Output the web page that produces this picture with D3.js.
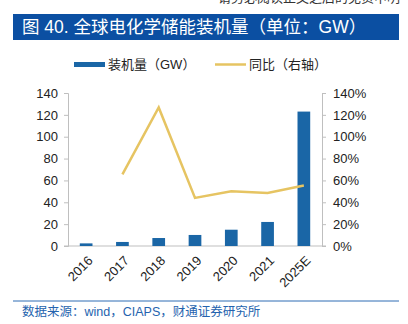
<!DOCTYPE html>
<html>
<head>
<meta charset="utf-8">
<script src="https://cdn.jsdelivr.net/npm/d3@7"></script>
<style>
  html, body { margin: 0; padding: 0; background: #fff; }
  svg { display: block; font-family: "Liberation Sans", "Noto Sans CJK SC", sans-serif; }
</style>
</head>
<body>
<div id="chart"></div>
<script>
const years = ["2016", "2017", "2018", "2019", "2020", "2021", "2025E"];
const capacity = [2.4, 3.7, 7.3, 10.1, 14.9, 22.0, 123.0];
const growth = [null, 0.656, 1.268, 0.44, 0.50, 0.485, 0.553];
const leftTicks = [0, 20, 40, 60, 80, 100, 120, 140];
const rightTicks = [0, 0.2, 0.4, 0.6, 0.8, 1.0, 1.2, 1.4];

const W = 408, H = 324;
const blue = "#1a66a6", gold = "#e6c462", titleBlue = "#0b4fa2";
const cjk = "'Liberation Sans', 'Noto Sans CJK SC', sans-serif";

const svg = d3.select("#chart").append("svg")
    .attr("width", W)
    .attr("height", H);

// page header, mostly above the top edge
svg.append("text")
    .attr("x", 400).attr("y", 2)
    .attr("text-anchor", "end")
    .attr("font-family", cjk)
    .attr("font-size", 13)
    .attr("fill", "#333")
    .text("请务必阅读正文之后的免责申明");

// title bar
svg.append("rect")
    .attr("x", 13).attr("y", 14)
    .attr("width", 386).attr("height", 26)
    .attr("fill", titleBlue);
svg.append("text")
    .attr("x", 22).attr("y", 33)
    .attr("font-family", cjk)
    .attr("font-size", 17.5)
    .attr("fill", "#fff")
    .text("图 40. 全球电化学储能装机量（单位：GW）");

const x = d3.scaleBand().domain(years).range([68, 322]).paddingInner(0.65).paddingOuter(0.325);
const yL = d3.scaleLinear().domain([0, 140]).range([246, 93]);
const yR = d3.scaleLinear().domain([0, 1.4]).range([246, 93]);

// axes
const axisL = svg.append("g").attr("transform", "translate(68,0)")
    .call(d3.axisLeft(yL).tickValues(leftTicks).tickSize(4).tickPadding(6));
const axisR = svg.append("g").attr("transform", "translate(322,0)")
    .call(d3.axisRight(yR).tickValues(rightTicks).tickSize(4).tickPadding(7)
        .tickFormat(d => Math.round(d * 100) + "%"));
[axisL, axisR].forEach(g => {
    g.select(".domain").attr("stroke", "#bfbfbf");
    g.selectAll(".tick line").attr("stroke", "#bfbfbf");
    g.selectAll(".tick text").attr("font-size", 13).attr("fill", "#222")
        .attr("font-family", "'Liberation Sans', sans-serif");
});

svg.append("line")
    .attr("x1", 64).attr("x2", 326)
    .attr("y1", 246).attr("y2", 246)
    .attr("stroke", "#bfbfbf");

// bars
svg.append("g").selectAll("rect")
    .data(years)
    .join("rect")
    .attr("x", d => x(d))
    .attr("width", x.bandwidth())
    .attr("y", (d, i) => yL(capacity[i]))
    .attr("height", (d, i) => yL(0) - yL(capacity[i]))
    .attr("fill", blue);

// growth line on right axis
const line = d3.line()
    .defined(d => d[1] !== null)
    .x(d => x(d[0]) + x.bandwidth() / 2)
    .y(d => yR(d[1]));
svg.append("path")
    .datum(years.map((d, i) => [d, growth[i]]))
    .attr("d", line)
    .attr("fill", "none")
    .attr("stroke", gold)
    .attr("stroke-width", 2.5);

// x labels rotated
svg.append("g").selectAll("text")
    .data(years)
    .join("text")
    .attr("transform", d => `translate(${x(d) + x.bandwidth() / 2 + 1},${255}) rotate(-45)`)
    .attr("text-anchor", "end")
    .attr("dy", "0.7em")
    .attr("font-size", 13)
    .attr("fill", "#222")
    .text(d => d);

// legend
const legend = svg.append("g").attr("font-family", cjk).attr("font-size", 13).attr("fill", "#222");
legend.append("rect").attr("x", 74).attr("y", 62).attr("width", 31).attr("height", 5).attr("fill", blue);
legend.append("text").attr("x", 108).attr("y", 69).text("装机量（GW）");
legend.append("line").attr("x1", 215).attr("x2", 246).attr("y1", 64.5).attr("y2", 64.5)
    .attr("stroke", gold).attr("stroke-width", 2.5);
legend.append("text").attr("x", 249).attr("y", 69).text("同比（右轴）");

// footer
svg.append("line")
    .attr("x1", 13).attr("x2", 399)
    .attr("y1", 301).attr("y2", 301)
    .attr("stroke", "#2e6db4").attr("stroke-width", 1);
svg.append("text")
    .attr("x", 22).attr("y", 316)
    .attr("font-family", cjk)
    .attr("font-size", 12.5)
    .attr("fill", "#2563ae")
    .text("数据来源：wind，CIAPS，财通证券研究所");
</script>
</body>
</html>
